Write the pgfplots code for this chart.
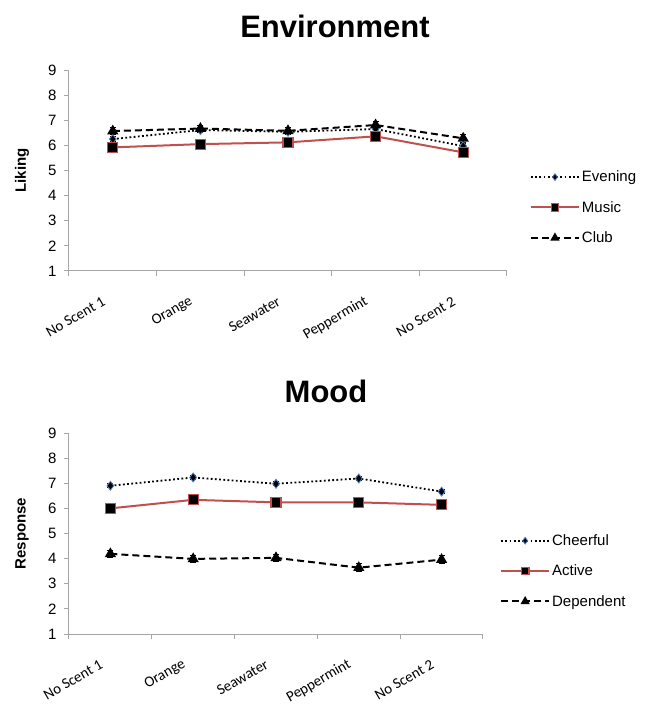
\documentclass[border=0pt]{standalone}
\usepackage{pgfplots}
\pgfplotsset{compat=1.18}
\usepackage{fontspec}
\setmainfont{Liberation Sans}
\newfontfamily\carlito{Carlito}
\definecolor{redline}{HTML}{C0504D}
\definecolor{bluemk}{HTML}{4F81BD}
\definecolor{axgray}{HTML}{A6A6A6}
\pgfplotsset{
  common/.style={
    scale only axis, height=201pt,
    xmin=0, xmax=5, ymin=1, ymax=9,
    ytick={1,...,9}, xtick={0,...,5}, xticklabels={},
    extra x ticks={0.5,1.5,2.5,3.5,4.5},
    extra x tick labels={No Scent 1,Orange,Seawater,Peppermint,No Scent 2},
    extra x tick style={major tick length=0pt, tick label style={rotate=30, anchor=east, yshift=-21pt, xshift=-19pt, font=\carlito\fontsize{15}{15}\selectfont}},
    axis x line*=bottom, axis y line*=left,
    axis line style={axgray, line width=1pt},
    tick style={axgray, line width=1pt},
    major tick length=5pt, tick align=outside,
    /pgf/number format/assume math mode=true,
    yticklabel style={font=\fontsize{15}{15}\selectfont, xshift=-4pt},
    legend style={draw=none, fill=none, font=\fontsize{15}{15}\selectfont, row sep=14pt, inner sep=0pt, nodes={inner sep=2pt}},
    legend cell align=left,
    legend image code/.code={\draw[##1, mark repeat=2, mark phase=2, every mark/.append style={scale=0.75}] plot coordinates {(0pt,0pt) (24pt,0pt) (48pt,0pt)};},
    error bars/y dir=both, error bars/y explicit,
    error bars/error mark options={rotate=90, mark size=3pt, line width=1pt, black},
    error bars/error bar style={line width=1pt, black, solid},
  },
  sdot/.style={black, line width=1.8pt, dash pattern=on 1.8pt off 2.4pt, mark=diamond*, mark options={solid, fill=black, draw=bluemk, line width=0.8pt}, mark size=4.5pt},
  sred/.style={redline, line width=2pt, mark=square*, mark options={solid, fill=black, draw=redline, line width=1.2pt}, mark size=5pt},
  sdash/.style={black, line width=2pt, dash pattern=on 7pt off 4pt, mark=triangle*, mark options={solid, fill=black}, mark size=4.5pt},
}
\begin{document}
\begin{tikzpicture}[x=1pt,y=1pt]
\useasboundingbox (0,0) rectangle (648,705);
\begin{axis}[common, at={(69pt,434pt)}, anchor=south west, width=438pt,
  ylabel={\bfseries Liking},
  ylabel style={at={(axis description cs:-0.107,0.5)}, anchor=center, font=\fontsize{15}{15}\selectfont},
  legend style={at={(axis description cs:1.052,0.316)}, anchor=west}]
\addplot[sdot] coordinates {(0.5,6.25) +- (0,0.1) (1.5,6.61) +- (0,0.1) (2.5,6.54) +- (0,0.1) (3.5,6.65) +- (0,0.1) (4.5,5.97) +- (0,0.1)};
\addlegendentry{Evening}
\addplot[sred] coordinates {(0.5,5.92) +- (0,0.1) (1.5,6.05) +- (0,0.1) (2.5,6.12) +- (0,0.1) (3.5,6.36) +- (0,0.1) (4.5,5.72) +- (0,0.1)};
\addlegendentry{Music}
\addplot[sdash] coordinates {(0.5,6.57) +- (0,0.15) (1.5,6.67) +- (0,0.12) (2.5,6.58) +- (0,0.12) (3.5,6.81) +- (0,0.15) (4.5,6.28) +- (0,0.15)};
\addlegendentry{Club}
\end{axis}
\node[font=\bfseries\fontsize{31}{31}\selectfont] at (335pt,679pt) {Environment};
\begin{axis}[common, at={(69pt,71pt)}, anchor=south west, width=414pt,
  ylabel={\bfseries Response},
  ylabel style={at={(axis description cs:-0.1135,0.5)}, anchor=center, font=\fontsize{15}{15}\selectfont},
  legend style={at={(axis description cs:1.041,0.313)}, anchor=west}]
\addplot[sdot] coordinates {(0.5,6.90) +- (0,0.08) (1.5,7.23) +- (0,0.08) (2.5,6.98) +- (0,0.08) (3.5,7.19) +- (0,0.08) (4.5,6.67) +- (0,0.08)};
\addlegendentry{Cheerful}
\addplot[sred] coordinates {(0.5,6.00) +- (0,0.08) (1.5,6.34) +- (0,0.08) (2.5,6.24) +- (0,0.08) (3.5,6.24) +- (0,0.08) (4.5,6.14) +- (0,0.08)};
\addlegendentry{Active}
\addplot[sdash] coordinates {(0.5,4.19) +- (0,0.15) (1.5,3.99) +- (0,0.15) (2.5,4.03) +- (0,0.15) (3.5,3.64) +- (0,0.15) (4.5,3.96) +- (0,0.15)};
\addlegendentry{Dependent}
\end{axis}
\node[font=\bfseries\fontsize{31}{31}\selectfont] at (326pt,314pt) {Mood};
\end{tikzpicture}
\end{document}
